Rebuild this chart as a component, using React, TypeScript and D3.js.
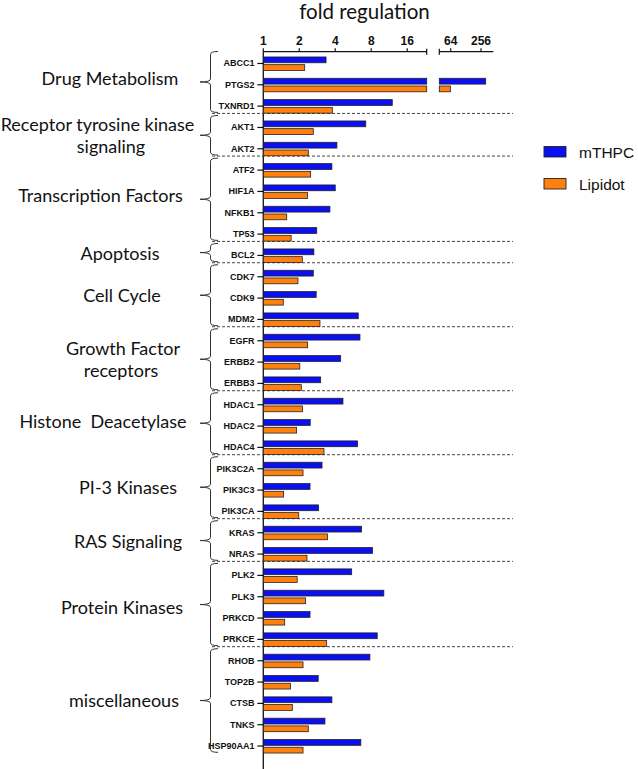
import React from "react";
import * as d3 from "d3";

// ---------- data ----------
const genes = [
  "ABCC1", "PTGS2", "TXNRD1",
  "AKT1", "AKT2",
  "ATF2", "HIF1A", "NFKB1", "TP53",
  "BCL2",
  "CDK7", "CDK9", "MDM2",
  "EGFR", "ERBB2", "ERBB3",
  "HDAC1", "HDAC2", "HDAC4",
  "PIK3C2A", "PIK3C3", "PIK3CA",
  "KRAS", "NRAS",
  "PLK2", "PLK3", "PRKCD", "PRKCE",
  "RHOB", "TOP2B", "CTSB", "TNKS", "HSP90AA1",
];
const mTHPC = [
  3.35, 318, 12.0,
  7.2, 4.13,
  3.75, 4.0, 3.61, 2.8,
  2.65,
  2.62, 2.77, 6.23,
  6.44, 4.44, 3.02,
  4.64, 2.47, 6.15,
  3.1, 2.46, 2.9,
  6.64, 8.2,
  5.49, 10.2, 2.46, 8.98,
  7.8, 2.88, 3.75, 3.28, 6.55,
];
const lipidot = [
  2.22, 63, 3.78,
  2.62, 2.38,
  2.49, 2.35, 1.57, 1.71,
  2.12,
  1.95, 1.47, 2.98,
  2.35, 2.02, 2.08,
  2.13, 1.9, 3.22,
  2.15, 1.48, 1.98,
  3.45, 2.32,
  1.92, 2.26, 1.51, 3.39,
  2.15, 1.69, 1.75, 2.38, 2.15,
];
const groupNames = [
  ["Drug Metabolism"],
  ["Receptor tyrosine kinase", "signaling"],
  ["Transcription Factors"],
  ["Apoptosis"],
  ["Cell Cycle"],
  ["Growth Factor", "receptors"],
  ["Histone  Deacetylase"],
  ["PI-3 Kinases"],
  ["RAS Signaling"],
  ["Protein Kinases"],
  ["miscellaneous"],
];
const groupSizes = [3, 2, 4, 1, 3, 3, 3, 3, 2, 4, 5];
const ticksLow = [1, 2, 4, 8, 16];
const ticksHigh = [64, 256];
const seriesNames = ["mTHPC", "Lipidot"];

// ---------- layout ----------
const W = 638;
const H = 769;
const AXIS_Y = 51.7;
const COLORS = ["#0a10f2", "#ff800e"];
const labelCenters = [[110], [97.5, 111], [100.5], [120], [122], [123, 121], [103], [128], [128], [122], [124]];
const labelDy = [-4, 0, -4, 0, 0, 0, -2, 0, 0, 2, -1];

const y = d3.scaleBand<string>().domain(genes).range([52.8, 756.7]);
const x1 = d3.scaleLog().base(2).domain([1, 23.3]).range([263.3, 426.7]);
const x2 = d3.scaleLog().base(2).domain([38, 450]).range([439.3, 493.3]);

function barSegments(v: number): [number, number][] {
  if (v <= x1.domain()[1]) return [[x1(1), x1(v)]];
  return [
    [x1(1), x1.range()[1]],
    [x2.range()[0], x2(v)],
  ];
}

function bracePath(top: number, bottom: number): string {
  const xv = 210.5;
  const xe = 218;
  const xt = 200;
  const mid = (top + bottom) / 2;
  const r = 3;
  return [
    `M${xe},${top}`,
    `Q${xv},${top} ${xv},${top + r}`,
    `L${xv},${mid - r}`,
    `Q${xv},${mid} ${xt},${mid}`,
    `Q${xv},${mid} ${xv},${mid + r}`,
    `L${xv},${bottom - r}`,
    `Q${xv},${bottom} ${xe},${bottom}`,
  ].join(" ");
}

export default function App() {
  const bw = y.bandwidth();
  const c = (g: string) => (y(g) as number) + bw / 2;

  const groups: { start: number; end: number; idx: number }[] = [];
  let s = 0;
  groupSizes.forEach((n, i) => {
    groups.push({ start: s, end: s + n - 1, idx: i });
    s += n;
  });

  const labelFont = "Liberation Sans, Arial, sans-serif";
  const textFont = "Lato, 'Open Sans', sans-serif";

  return (
    <svg
      width={W}
      height={H}
      style={{ position: "absolute", left: 0, top: 0, background: "#fff" }}
    >
      <rect x={0} y={0} width={W} height={H} fill="#fff" />
      {/* title */}
      <text x={364.5} y={19} textAnchor="middle" fontFamily={textFont} fontSize={20.5} fill="#111">
        fold regulation
      </text>

      {/* top axis, segment 1 */}
      <line x1={x1.range()[0]} x2={x1.range()[1]} y1={AXIS_Y} y2={AXIS_Y} stroke="#111" strokeWidth={1.3} />
      <line x1={x1.range()[1]} x2={x1.range()[1]} y1={AXIS_Y - 3} y2={AXIS_Y + 3} stroke="#111" strokeWidth={1.2} />
      {ticksLow.map((t) => (
        <g key={"tl" + t}>
          <line x1={x1(t)} x2={x1(t)} y1={AXIS_Y - 3.5} y2={AXIS_Y} stroke="#111" strokeWidth={1.2} />
          <text x={x1(t)} y={40.5} textAnchor="middle" dominantBaseline="central" fontFamily={labelFont} fontWeight="bold" fontSize={12} fill="#111">
            {t}
          </text>
        </g>
      ))}
      {/* top axis, segment 2 */}
      <line x1={x2.range()[0]} x2={x2.range()[1]} y1={AXIS_Y} y2={AXIS_Y} stroke="#111" strokeWidth={1.3} />
      <line x1={x2.range()[0]} x2={x2.range()[0]} y1={AXIS_Y - 3} y2={AXIS_Y + 3} stroke="#111" strokeWidth={1.2} />
      {ticksHigh.map((t) => (
        <g key={"th" + t}>
          <line x1={x2(t)} x2={x2(t)} y1={AXIS_Y - 3.5} y2={AXIS_Y} stroke="#111" strokeWidth={1.2} />
          <text x={x2(t)} y={40.5} textAnchor="middle" dominantBaseline="central" fontFamily={labelFont} fontWeight="bold" fontSize={12} fill="#111">
            {t}
          </text>
        </g>
      ))}

      {/* y axis */}
      <line x1={x1(1)} x2={x1(1)} y1={AXIS_Y} y2={H} stroke="#111" strokeWidth={1.3} />

      {/* separators */}
      {groups.slice(0, -1).map((g) => {
        const yy = c(genes[g.end]) + 7.3;
        return (
          <line key={"sep" + g.idx} x1={212} x2={513} y1={yy} y2={yy} stroke="#444" strokeWidth={1} strokeDasharray="3,2" />
        );
      })}

      {/* bars */}
      {genes.map((g, i) => {
        const cy = c(g);
        return (
          <g key={g}>
            {[mTHPC[i], lipidot[i]].map((v, k) =>
              barSegments(v).map(([a, b], j) => (
                <rect
                  key={k + "-" + j}
                  x={a}
                  y={k === 0 ? cy - 6.5 : cy + 1.2}
                  width={Math.max(0, b - a)}
                  height={5.8}
                  fill={COLORS[k]}
                  stroke="#222"
                  strokeWidth={0.8}
                />
              ))
            )}
            <line x1={x1(1) - 6} x2={x1(1)} y1={cy} y2={cy} stroke="#111" strokeWidth={1.2} />
            <text
              x={254.5}
              y={cy}
              textAnchor="end"
              dominantBaseline="central"
              fontFamily={labelFont}
              fontWeight="bold"
              fontSize={9}
              fill="#111"
            >
              {g}
            </text>
          </g>
        );
      })}

      {/* braces and group labels */}
      {groups.map((g) => {
        const top = c(genes[g.start]) - 12;
        const bottom = c(genes[g.end]) + 6.3;
        const mid = (top + bottom) / 2;
        const lines = groupNames[g.idx];
        const lh = 22;
        return (
          <g key={"grp" + g.idx}>
            <path d={bracePath(top, bottom)} fill="none" stroke="#333" strokeWidth={1} />
            {lines.map((ln, k) => (
              <text
                key={k}
                x={labelCenters[g.idx][k]}
                y={mid + labelDy[g.idx] + (k - (lines.length - 1) / 2) * lh}
                textAnchor="middle"
                dominantBaseline="central"
                fontFamily={textFont}
                fontSize={18}
                fill="#111"
                style={{ whiteSpace: "pre" }}
              >
                {ln}
              </text>
            ))}
          </g>
        );
      })}

      {/* legend */}
      {seriesNames.map((n, k) => (
        <g key={n} transform={`translate(544,${146.5 + k * 32})`}>
          <rect x={0} y={0} width={22} height={10.5} fill={COLORS[k]} stroke="#222" strokeWidth={0.9} />
          <text x={35} y={5.5} dominantBaseline="central" fontFamily={labelFont} fontSize={15.5} fill="#111">
            {n}
          </text>
        </g>
      ))}
    </svg>
  );
}
